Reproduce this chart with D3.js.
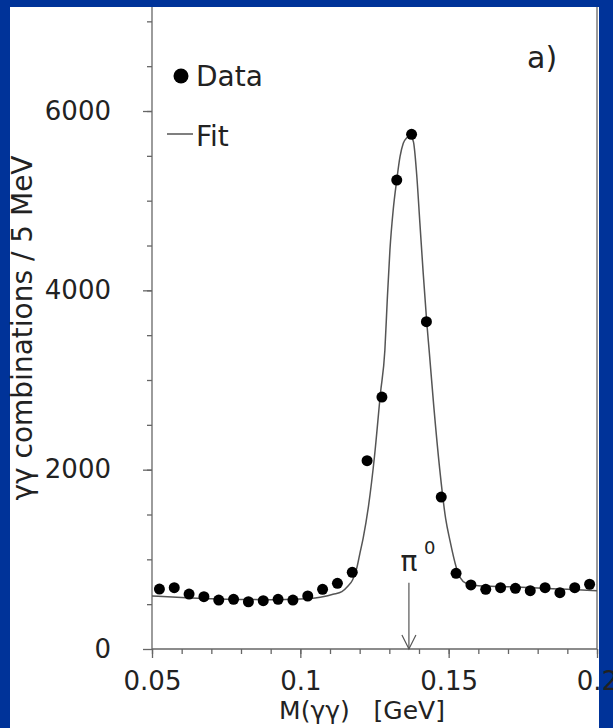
<!DOCTYPE html>
<html>
<head>
<meta charset="utf-8">
<script src="https://cdn.jsdelivr.net/npm/d3@7"></script>
<style>
  body { margin: 0; background: #003399; }
  text { font-family: "DejaVu Sans", sans-serif; fill: #222; }
</style>
</head>
<body>
<script>
// Data points: bin centres (GeV) and counts per 5 MeV
var massBins = [0.0525, 0.0575, 0.0625, 0.0675, 0.0725, 0.0775, 0.0825, 0.0875, 0.0925, 0.0975,
                0.1025, 0.1075, 0.1125, 0.1175, 0.1225, 0.1275, 0.1325, 0.1375, 0.1425, 0.1475,
                0.1525, 0.1575, 0.1625, 0.1675, 0.1725, 0.1775, 0.1825, 0.1875, 0.1925, 0.1975];
var counts = [669, 684, 613, 583, 546, 554, 527, 539, 554, 546,
              591, 666, 733, 855, 2100, 2810, 5230, 5740, 3650, 1695,
              844, 714, 666, 684, 677, 650, 684, 628, 684, 722];

// Fit curve
var fitMass = [0.050, 0.060, 0.070, 0.080, 0.090, 0.100, 0.105, 0.108, 0.111, 0.114,
               0.116, 0.1176, 0.119, 0.1201, 0.1212, 0.123, 0.125, 0.127, 0.1285, 0.1293,
               0.1302, 0.1313, 0.1325, 0.1336, 0.1347, 0.1358, 0.137, 0.1381, 0.1392, 0.1403,
               0.1414, 0.1426, 0.1435, 0.145, 0.147, 0.149, 0.1504, 0.1525, 0.154, 0.156,
               0.160, 0.170, 0.180, 0.190, 0.200];
var fitCounts = [590, 575, 560, 552, 550, 558, 570, 585, 610, 640,
                 700, 770, 900, 1070, 1240, 1600, 2150, 2850, 3334, 3892,
                 4450, 4896, 5230, 5490, 5640, 5700, 5720, 5660, 5300, 4750,
                 4200, 3650, 3300, 2700, 2000, 1450, 1215, 918, 790, 730,
                 705, 695, 680, 665, 650];

var xTicks = [0.05, 0.1, 0.15, 0.2];
var xTickLabels = ['0.05', '0.1', '0.15', '0.2'];
var yTicks = [0, 2000, 4000, 6000];
var pionMass = 0.1366;

var width = 613, height = 728;
var x = d3.scaleLinear().domain([0.05, 0.2]).range([152, 597]);
var y = d3.scaleLinear().domain([0, 7160]).range([649, 7]);

var svg = d3.select('body').append('svg')
  .attr('width', width)
  .attr('height', height);

svg.append('rect').attr('width', width).attr('height', height).attr('fill', '#003399');
svg.append('rect').attr('x', 10).attr('y', 7).attr('width', 589).attr('height', height - 7).attr('fill', '#fff');

// minor ticks
svg.append('g')
  .attr('transform', 'translate(0,' + y(0) + ')')
  .call(d3.axisBottom(x).tickValues(d3.range(5, 21).map(function(d) { return d / 100; }))
    .tickSize(5).tickFormat(''))
  .call(function(g) { g.select('.domain').remove(); });
svg.append('g')
  .attr('transform', 'translate(' + x(0.05) + ',0)')
  .call(d3.axisLeft(y).tickValues(d3.range(500, 7001, 500)).tickSize(5).tickFormat(''))
  .call(function(g) { g.select('.domain').remove(); });

// major ticks + labels
svg.append('g')
  .attr('class', 'x-axis')
  .attr('transform', 'translate(0,' + y(0) + ')')
  .call(d3.axisBottom(x).tickValues(xTicks).tickSize(9).tickPadding(14)
    .tickFormat(function(d, i) { return xTickLabels[i]; }))
  .call(function(g) { g.select('.domain').attr('d', 'M' + x(0.05) + ',0H' + x(0.2)); });

svg.append('g')
  .attr('class', 'y-axis')
  .attr('transform', 'translate(' + x(0.05) + ',0)')
  .call(d3.axisLeft(y).tickValues(yTicks).tickSize(9).tickPadding(32).tickFormat(d3.format('d')))
  .call(function(g) { g.select('.domain').attr('d', 'M0,' + y(0) + 'V' + y(7160)); });

svg.selectAll('.tick line, .domain').attr('stroke', '#666').attr('stroke-width', 1.3);
svg.selectAll('.tick text').attr('font-size', 26).attr('fill', '#222')
  .attr('font-family', '"DejaVu Sans", sans-serif');

// right frame
svg.append('line')
  .attr('x1', x(0.2)).attr('x2', x(0.2))
  .attr('y1', y(7160)).attr('y2', y(0))
  .attr('stroke', '#666').attr('stroke-width', 1.3);

// fit
var line = d3.line()
  .x(function(d, i) { return x(fitMass[i]); })
  .y(function(d) { return y(d); })
  .curve(d3.curveMonotoneX);
svg.append('path')
  .attr('d', line(fitCounts))
  .attr('fill', 'none')
  .attr('stroke', '#555')
  .attr('stroke-width', 1.5);

// data
svg.selectAll('.dot')
  .data(counts)
  .enter().append('circle')
  .attr('class', 'dot')
  .attr('cx', function(d, i) { return x(massBins[i]); })
  .attr('cy', function(d) { return y(d); })
  .attr('r', 5.5)
  .attr('fill', '#000');

// pi0 arrow
var ax = x(pionMass);
svg.append('line')
  .attr('x1', ax).attr('x2', ax)
  .attr('y1', y(740)).attr('y2', y(0))
  .attr('stroke', '#555').attr('stroke-width', 1.2);
svg.append('path')
  .attr('d', 'M' + (ax - 7) + ',' + (y(0) - 14) + 'L' + ax + ',' + y(0) + 'L' + (ax + 7) + ',' + (y(0) - 14))
  .attr('fill', 'none').attr('stroke', '#555').attr('stroke-width', 1.2);
svg.append('text')
  .attr('x', ax).attr('y', 571)
  .attr('text-anchor', 'middle')
  .attr('font-size', 28)
  .text('π');
svg.append('text')
  .attr('x', ax + 15).attr('y', 554)
  .attr('font-size', 18)
  .text('0');

// legend
svg.append('circle').attr('cx', 181).attr('cy', 76).attr('r', 7.5).attr('fill', '#000');
svg.append('text').attr('x', 196).attr('y', 86).attr('font-size', 28).text('Data');
svg.append('line').attr('x1', 167).attr('x2', 193).attr('y1', 134).attr('y2', 134)
  .attr('stroke', '#555').attr('stroke-width', 1.5);
svg.append('text').attr('x', 196).attr('y', 146).attr('font-size', 28).text('Fit');

svg.append('text').attr('x', 527).attr('y', 68).attr('font-size', 30).text('a)');

// axis titles
svg.append('text')
  .attr('x', 362).attr('y', 719)
  .attr('text-anchor', 'middle')
  .attr('font-size', 25)
  .attr('xml:space', 'preserve')
  .text('M(γγ)   [GeV]');
svg.append('text')
  .attr('transform', 'translate(32,328) rotate(-90)')
  .attr('text-anchor', 'middle')
  .attr('font-size', 28)
  .text('γγ combinations / 5 MeV');
</script>
</body>
</html>
